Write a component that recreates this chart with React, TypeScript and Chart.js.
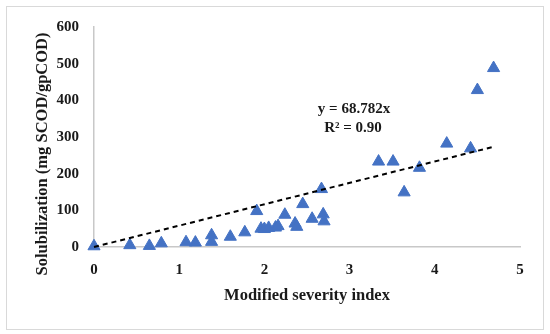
import React, { useEffect, useRef } from "react";
import { Chart, registerables } from "chart.js";

Chart.register(...registerables);

const severityIndex = [0, 0.42, 0.65, 0.79, 1.08, 1.19, 1.38, 1.38, 1.6, 1.77, 1.91, 1.96, 2.0, 2.05, 2.13, 2.16, 2.24, 2.36, 2.38, 2.45, 2.56, 2.67, 2.69, 2.7, 3.34, 3.51, 3.64, 3.82, 4.14, 4.42, 4.5, 4.69];
const solubilization = [2, 5, 3, 10, 13, 12, 32, 14, 28, 40, 98, 50, 49, 52, 53, 57, 88, 64, 55, 117, 77, 158, 89, 70, 233, 233, 149, 216, 282, 269, 428, 488];
const trendX = [0, 4.7];
const trendY = [0, 274];
const xTicks = [0, 1, 2, 3, 4, 5];
const yTicks = [0, 100, 200, 300, 400, 500, 600];
const equationLines = ["y = 68.782x", "R² = 0.90"];
const xTitle = "Modified severity index";
const yTitle = "Solubilization (mg SCOD/gpCOD)";

const FONT = "'Liberation Serif', 'Times New Roman', serif";

export default function App() {
  const ref = useRef<HTMLCanvasElement | null>(null);
  useEffect(() => {
    if (!ref.current) return;
    const textPlugin = {
      id: "textPlugin",
      afterDatasetsDraw(chart: any) {
        const ctx = chart.ctx;
        ctx.save();
        ctx.fillStyle = "#1a1a1a";
        ctx.font = `bold 15px ${FONT}`;
        ctx.textAlign = "center";
        ctx.textBaseline = "middle";
        ctx.fillText(equationLines[0], 354, 109);
        ctx.fillText(equationLines[1], 353, 128);
        ctx.translate(43, 154);
        ctx.rotate(-Math.PI / 2);
        ctx.font = `bold 16.5px ${FONT}`;
        ctx.fillText(yTitle, 0, 0);
        ctx.restore();
      },
    };
    const chart = new Chart(ref.current, {
      type: "scatter",
      data: {
        datasets: [
          {
            label: "Trend",
            type: "line",
            data: trendX.map((x, i) => ({ x, y: trendY[i] })),
            borderColor: "#000000",
            borderWidth: 2,
            borderDash: [5, 4],
            pointRadius: 0,
            fill: false,
            clip: false,
            order: 0,
          },
          {
            label: "Data",
            data: severityIndex.map((x, i) => ({ x, y: solubilization[i] })),
            pointStyle: "triangle",
            pointRadius: 7,
            backgroundColor: "#4472C4",
            borderColor: "#4472C4",
            borderWidth: 1,
            clip: false,
            order: 1,
          },
        ],
      },
      options: {
        responsive: false,
        animation: false,
        layout: { padding: { left: 0, right: 30, top: 27, bottom: 0 } },
        plugins: { legend: { display: false }, tooltip: { enabled: false } },
        scales: {
          x: {
            type: "linear",
            min: 0,
            max: 5,
            afterBuildTicks: (s: any) => { s.ticks = xTicks.map((v) => ({ value: v })); },
            afterFit: (s: any) => { s.height = 87; },
            grid: { display: false, drawTicks: false },
            border: { display: true, color: "#c8c8c8", width: 1.5 },
            ticks: { padding: 14, color: "#1a1a1a", font: { family: FONT, size: 15, weight: "bold" } },
            title: { display: true, text: xTitle, color: "#1a1a1a", padding: { top: 0, bottom: 28 }, font: { family: FONT, size: 16.5, weight: "bold" } },
          },
          y: {
            type: "linear",
            min: 0,
            max: 600,
            afterBuildTicks: (s: any) => { s.ticks = yTicks.map((v) => ({ value: v })); },
            afterFit: (s: any) => { s.width = 94; },
            grid: { display: false, drawTicks: false },
            border: { display: true, color: "#c8c8c8", width: 1.5 },
            ticks: { padding: 15, color: "#1a1a1a", font: { family: FONT, size: 15, weight: "bold" } },
          },
        },
      },
      plugins: [textPlugin],
    } as any);
    return () => chart.destroy();
  }, []);
  return (
    <div style={{ position: "fixed", left: 0, top: 0, width: 550, height: 334, background: "#fff" }}>
      <div style={{ position: "absolute", left: 6, top: 6, width: 538, height: 324, border: "1px solid #d9d9d9", boxSizing: "border-box" }} />
      <canvas ref={ref} width={550} height={334} style={{ position: "absolute", left: 0, top: 0 }} />
    </div>
  );
}
